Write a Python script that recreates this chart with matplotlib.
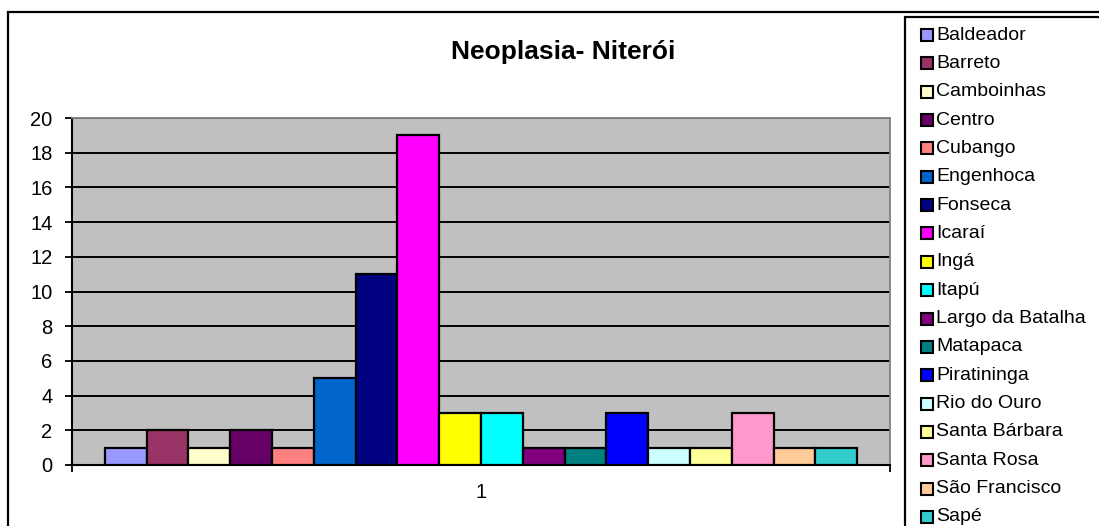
import matplotlib
matplotlib.use("Agg")
import matplotlib.pyplot as plt
from matplotlib.patches import Rectangle

plt.rcParams['font.family'] = ['Liberation Sans', 'DejaVu Sans']

title = "Neoplasia- Niterói"
categories = ["Baldeador", "Barreto", "Camboinhas", "Centro", "Cubango", "Engenhoca",
              "Fonseca", "Icaraí", "Ingá", "Itapú", "Largo da Batalha", "Matapaca",
              "Piratininga", "Rio do Ouro", "Santa Bárbara", "Santa Rosa",
              "São Francisco", "Sapé"]
values = [1, 2, 1, 2, 1, 5, 11, 19, 3, 3, 1, 1, 3, 1, 1, 3, 1, 1]
colors = ["#9999FF", "#993366", "#FFFFCC", "#660066", "#FF8080", "#0066CC",
          "#000080", "#FF00FF", "#FFFF00", "#00FFFF", "#800080", "#008080",
          "#0000FF", "#CCFFFF", "#FFFF99", "#FF99CC", "#FFCC99", "#33CCCC"]
group_label = "1"
y_ticks = list(range(0, 21, 2))

W, H = 1099, 526
fig = plt.figure(figsize=(W / 100, H / 100), dpi=100)

def fx(px):
    return px / W

def fy(py):
    return 1 - py / H

# outer chart border (continues past the right and bottom edges)
fig.add_artist(Rectangle((fx(8), fy(600)), fx(1200), fy(12) - fy(600),
                         transform=fig.transFigure, fill=False,
                         edgecolor="black", linewidth=1.6))

ax = fig.add_axes([fx(72), fy(465), fx(890) - fx(72), fy(118) - fy(465)])
ax.set_facecolor("#C0C0C0")
ax.set_axisbelow(True)

n = len(values)
positions = list(range(n))
ax.bar(positions, values, width=1.0, color=colors, edgecolor="black",
       linewidth=1.6, zorder=3)

gap = 0.785
ax.set_xlim(-0.5 - gap, n - 0.5 + gap)
ax.set_ylim(0, 20)
ax.set_yticks(y_ticks)
ax.yaxis.grid(True, color="black", linewidth=1.4, zorder=1)
ax.tick_params(axis="y", direction="out", length=5, width=1.3, pad=9,
               labelsize=14.5, colors="black")

center = (n - 1) / 2
ax.set_xticks([center])
ax.set_xticklabels([group_label])
ax.set_xticks([-0.5 - gap, n - 0.5 + gap], minor=True)
ax.tick_params(axis="x", which="major", length=0, pad=13, labelsize=14.5)
ax.tick_params(axis="x", which="minor", direction="out", length=5, width=1.3)

for side in ("left", "bottom"):
    ax.spines[side].set_color("black")
    ax.spines[side].set_linewidth(1.5)
for side in ("top", "right"):
    ax.spines[side].set_color("#808080")
    ax.spines[side].set_linewidth(1.3)

fig.text(fx(563), fy(52), title, ha="center", va="center",
         fontsize=19, fontweight="bold")

# legend box (continues past the right and bottom edges)
fig.add_artist(Rectangle((fx(905), fy(600)), fx(400), fy(17) - fy(600),
                         transform=fig.transFigure, fill=False,
                         edgecolor="black", linewidth=1.6))
row0, step = 35, 28.35
for i, (name, col) in enumerate(zip(categories, colors)):
    yc = row0 + i * step
    fig.add_artist(Rectangle((fx(921), fy(yc + 6)), fx(12), fy(yc - 6) - fy(yc + 6),
                             transform=fig.transFigure, facecolor=col,
                             edgecolor="black", linewidth=1.5))
    fig.text(fx(936), fy(yc), name, ha="left", va="center", fontsize=14)

fig.savefig("out.png", dpi=100)
